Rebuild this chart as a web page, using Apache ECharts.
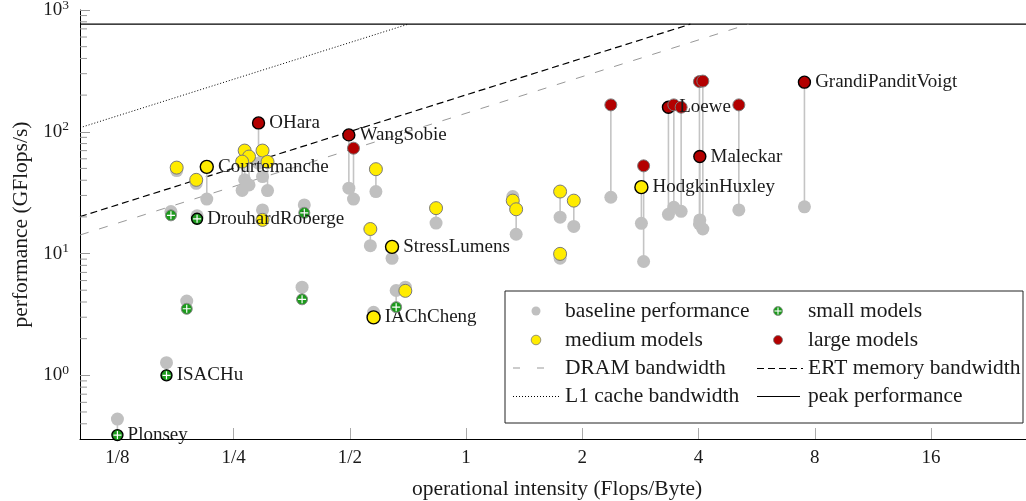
<!DOCTYPE html>
<html><head><meta charset="utf-8">
<script src="https://cdn.jsdelivr.net/npm/echarts@6/dist/echarts.min.js"></script>
<style>html,body{margin:0;padding:0;background:#fff}#c{width:1026px;height:501px}</style>
</head><body><div id="c"></div>
<script>
// ---------- data ----------
// small models
const smallX      = [0.125, 0.1675, 0.189, 0.376, 0.659, 0.172, 0.201, 0.381];
const smallBase   = [0.437, 1.27, 4.07, 5.30, 4.97, 22.1, 20.4, 25.1];
const smallOpt    = [0.323, 1.0, 3.52, 4.21, 3.63, 20.6, 19.3, 21.6];
const smallLabels = ['Plonsey', 'ISACHu', '', '', '', '', 'DrouhardRoberge', ''];
// medium models
const mediumX      = [0.178, 0.213, 0.200, 0.267, 0.274, 0.263, 0.297, 0.306, 0.297, 0.584, 0.565, 0.643, 0.836, 1.321, 1.348, 1.752, 1.901, 1.752, 0.696, 0.576, 2.845];
const mediumBase   = [48, 28.0, 37.7, 40.3, 36.6, 33.0, 42.9, 32.9, 22.8, 32.3, 11.6, 9.13, 17.8, 29.4, 14.4, 19.9, 16.7, 9.17, 5.30, 3.29, 17.7];
const mediumOpt    = [50.8, 51.5, 40.3, 70.1, 62.6, 56.9, 70.1, 56.6, 18.9, 49.3, 15.9, 11.35, 23.6, 27.2, 23.1, 32.3, 27.2, 9.94, 4.94, 2.99, 35.1];
const mediumLabels = ['', 'Courtemanche', '', '', '', '', '', '', '', '', '', 'StressLumens', '', '', '', '', '', '', '', 'IAChCheng', 'HodgkinHuxley'];
// large models
const largeX      = [0.290, 0.497, 0.511, 2.371, 2.883, 3.343, 3.452, 3.606, 4.022, 4.104, 4.031, 5.087, 7.523];
const largeBase   = [55.2, 34.4, 28.0, 29.0, 8.6, 21.0, 24.0, 22.2, 17.5, 15.9, 18.9, 22.8, 24.2];
const largeOpt    = [118.3, 94.3, 73.3, 166.3, 52.5, 159.2, 166.3, 159.2, 258.3, 260.8, 62.6, 166.3, 255.5];
const largeLabels = ['OHara', 'WangSobie', '', '', '', 'Loewe', '', '', '', '', 'Maleckar', '', 'GrandiPanditVoigt'];
// roofline end points [intensity, GFlops/s]
const peakLine = [[0.1, 765], [28.2, 765]];
const ertLine  = [[0.1, 20.1], [3.81, 765]];
const dramLine = [[0.1, 14.2], [5.39, 765]];
const l1Line   = [[0.1, 108], [0.708, 765]];
// axis ranges and minor ticks
const X_MIN = 0.1, X_MAX = 28.2, Y_MIN = 0.3, Y_MAX = 1000;
const yMinorTicks = [0.4, 0.5, 0.6, 0.7, 0.8, 0.9, 2, 3, 4, 5, 6, 7, 8, 9, 20, 30, 40, 50, 60, 70, 80, 90, 200, 300, 400, 500, 600, 700, 800, 900];
const legendNames = ['baseline performance', 'small models', 'medium models', 'large models', 'DRAM bandwidth', 'ERT memory bandwidth', 'L1 cache bandwidth', 'peak performance'];

// ---------- style ----------
const FONT = '"Liberation Serif", serif';
const C_GRAY = '#c0c0c0', C_YEL = '#ffec00', C_RED = '#b30000', C_GRN = '#1c9a1c';
const LBL = 19, TICK = 19, TXT = 21.5;

function pts(xs, ys, labels) {
  return xs.map((x, i) => {
    const o = { value: [x, ys[i]], name: labels ? labels[i] : '' };
    if (labels && labels[i]) o.itemStyle = { borderColor: '#000', borderWidth: 1.4 };
    return o;
  });
}
const connectors = []
  .concat(smallX.map((x, i) => [x, smallBase[i], smallOpt[i]]))
  .concat(mediumX.map((x, i) => [x, mediumBase[i], mediumOpt[i]]))
  .concat(largeX.map((x, i) => [x, largeBase[i], largeOpt[i]]));
const baseline = [].concat(pts(smallX, smallBase), pts(mediumX, mediumBase), pts(largeX, largeBase));

const pointLabel = {
  show: true, position: 'right', distance: 4,
  formatter: p => p.data.name || '',
  fontFamily: FONT, fontSize: LBL, color: '#1a1a1a'
};
const plus = 'path://M-0.6,-4H0.6V-0.6H4V0.6H0.6V4H-0.6V0.6H-4V-0.6H-0.6Z';

const chart = echarts.init(document.getElementById('c'), null, { renderer: 'canvas' });
const legendText = (x, y, t) => ({ type: 'text', z: 101, x: x, y: y, style: { text: t, font: TXT + 'px ' + FONT, fill: '#1a1a1a', verticalAlign: 'middle' } });
const option = {
  animation: false,
  backgroundColor: '#fff',
  grid: { left: 80, right: 0, top: 10, bottom: 62, containLabel: false, outerBoundsMode: 'none' },
  xAxis: {
    type: 'log', logBase: 2, min: X_MIN, max: X_MAX, splitNumber: 5,
    name: 'operational intensity (Flops/Byte)', nameLocation: 'middle', nameGap: 39,
    nameTextStyle: { fontFamily: FONT, fontSize: TXT, color: '#1a1a1a', padding: [0, 0, 0, 8] },
    axisLine: { lineStyle: { color: '#000', width: 1 } },
    axisTick: { inside: true, length: 11, lineStyle: { color: '#aaa', width: 1 } },
    splitLine: { show: false },
    axisLabel: {
      showMinLabel: false, showMaxLabel: false,
      fontFamily: FONT, fontSize: TICK, color: '#1a1a1a', margin: 10,
      formatter: v => {
        const l = Math.log2(v);
        if (Math.abs(l - Math.round(l)) > 1e-6) return '';
        return v < 0.99 ? '1/' + Math.round(1 / v) : String(Math.round(v));
      }
    }
  },
  yAxis: {
    type: 'log', logBase: 10, min: Y_MIN, max: Y_MAX,
    name: 'performance (GFlops/s)', nameLocation: 'middle', nameGap: 46,
    nameTextStyle: { fontFamily: FONT, fontSize: TXT, color: '#1a1a1a' },
    axisLine: { lineStyle: { color: '#000', width: 1 } },
    axisTick: { inside: true, length: 10, lineStyle: { color: '#999', width: 1 } },
    splitLine: { show: false },
    axisLabel: {
      showMinLabel: false, margin: 11,
      formatter: v => {
        const l = Math.log10(v);
        if (Math.abs(l - Math.round(l)) > 1e-6) return '';
        return '{b|10}{s|' + Math.round(l) + '}';
      },
      rich: {
        b: { fontFamily: FONT, fontSize: TICK, color: '#1a1a1a' },
        s: { fontFamily: FONT, fontSize: 13.5, color: '#1a1a1a', padding: [0, 0, 10, 0] }
      }
    }
  },
  series: [
    { type: 'line', name: 'peak performance', data: peakLine, symbol: 'none', z: 1, lineStyle: { color: '#000', width: 1.2 } },
    { type: 'line', name: 'ERT memory bandwidth', data: ertLine, symbol: 'none', z: 1, lineStyle: { color: '#000', width: 1.2, type: [7, 4] } },
    { type: 'line', name: 'DRAM bandwidth', data: dramLine, symbol: 'none', z: 1, lineStyle: { color: '#999', width: 1, type: [9, 11] } },
    { type: 'line', name: 'L1 cache bandwidth', data: l1Line, symbol: 'none', z: 1, lineStyle: { color: '#000', width: 1, type: [1, 2] } },
    {
      type: 'custom', name: 'yMinorTicks', z: 2, silent: true,
      data: yMinorTicks.map(v => [X_MIN, v]),
      renderItem: (params, api) => {
        const p = api.coord([api.value(0), api.value(1)]);
        return { type: 'line', shape: { x1: p[0], y1: p[1], x2: p[0] + 7, y2: p[1] }, style: { stroke: '#999', lineWidth: 1 } };
      }
    },
    {
      type: 'custom', name: 'connectors', z: 3, silent: true,
      encode: { x: 0, y: [1, 2] },
      data: connectors,
      renderItem: (params, api) => {
        const a = api.coord([api.value(0), api.value(1)]);
        const b = api.coord([api.value(0), api.value(2)]);
        return { type: 'line', shape: { x1: a[0], y1: a[1], x2: b[0], y2: b[1] }, style: { stroke: '#c4c4c4', lineWidth: 1.6 } };
      }
    },
    { type: 'scatter', name: 'baseline performance', z: 4, data: baseline, symbolSize: 13, itemStyle: { color: C_GRAY, opacity: 1 } },
    { type: 'scatter', name: 'medium models', z: 5, data: pts(mediumX, mediumOpt, mediumLabels), symbolSize: 13,
      itemStyle: { color: C_YEL, borderColor: '#7a7a7a', borderWidth: 1, opacity: 1 }, label: pointLabel },
    { type: 'scatter', name: 'large models', z: 6, data: pts(largeX, largeOpt, largeLabels), symbolSize: 12,
      itemStyle: { color: C_RED, borderColor: '#7a7a7a', borderWidth: 1, opacity: 1 }, label: pointLabel },
    { type: 'scatter', name: 'small models', z: 7, data: pts(smallX, smallOpt, smallLabels), symbolSize: 11,
      itemStyle: { color: C_GRN, borderColor: '#8a8a8a', borderWidth: 1, opacity: 1 }, label: pointLabel },
    { type: 'scatter', name: 'small models cross', z: 8, silent: true, data: pts(smallX, smallOpt), symbol: plus, symbolSize: 8,
      itemStyle: { color: '#fff', opacity: 1 } }
  ],
  graphic: [
    { type: 'rect', z: 100, shape: { x: 505, y: 291, width: 518, height: 132 }, style: { fill: '#fff', stroke: '#222', lineWidth: 1 } },
    { type: 'circle', z: 101, shape: { cx: 536, cy: 311, r: 4.5 }, style: { fill: C_GRAY } },
    { type: 'circle', z: 101, shape: { cx: 778, cy: 311, r: 4.5 }, style: { fill: C_GRN, stroke: '#8a8a8a', lineWidth: 0.8 } },
    { type: 'line', z: 102, shape: { x1: 778, y1: 307.5, x2: 778, y2: 314.5 }, style: { stroke: '#fff', lineWidth: 1.1 } },
    { type: 'line', z: 102, shape: { x1: 774.5, y1: 311, x2: 781.5, y2: 311 }, style: { stroke: '#fff', lineWidth: 1.1 } },
    { type: 'circle', z: 101, shape: { cx: 536, cy: 340, r: 4.8 }, style: { fill: C_YEL, stroke: '#7a7a7a', lineWidth: 0.8 } },
    { type: 'circle', z: 101, shape: { cx: 778, cy: 340, r: 4.5 }, style: { fill: C_RED, stroke: '#7a7a7a', lineWidth: 0.8 } },
    { type: 'line', z: 101, shape: { x1: 513, y1: 368, x2: 548, y2: 368 }, style: { stroke: '#999', lineWidth: 1, lineDash: [7, 17] } },
    { type: 'line', z: 101, shape: { x1: 757, y1: 368.5, x2: 803, y2: 368.5 }, style: { stroke: '#000', lineWidth: 1.2, lineDash: [7, 4] } },
    { type: 'line', z: 101, shape: { x1: 513, y1: 396.5, x2: 560, y2: 396.5 }, style: { stroke: '#000', lineWidth: 1, lineDash: [1, 2] } },
    { type: 'line', z: 101, shape: { x1: 757, y1: 396.5, x2: 800, y2: 396.5 }, style: { stroke: '#000', lineWidth: 1.2 } },
    legendText(565, 311, legendNames[0]),
    legendText(808, 311, legendNames[1]),
    legendText(565, 340, legendNames[2]),
    legendText(808, 340, legendNames[3]),
    legendText(565, 368, legendNames[4]),
    legendText(808, 368, legendNames[5]),
    legendText(565, 396, legendNames[6]),
    legendText(808, 396, legendNames[7])
  ]
};
chart.setOption(option);
</script>
</body></html>
